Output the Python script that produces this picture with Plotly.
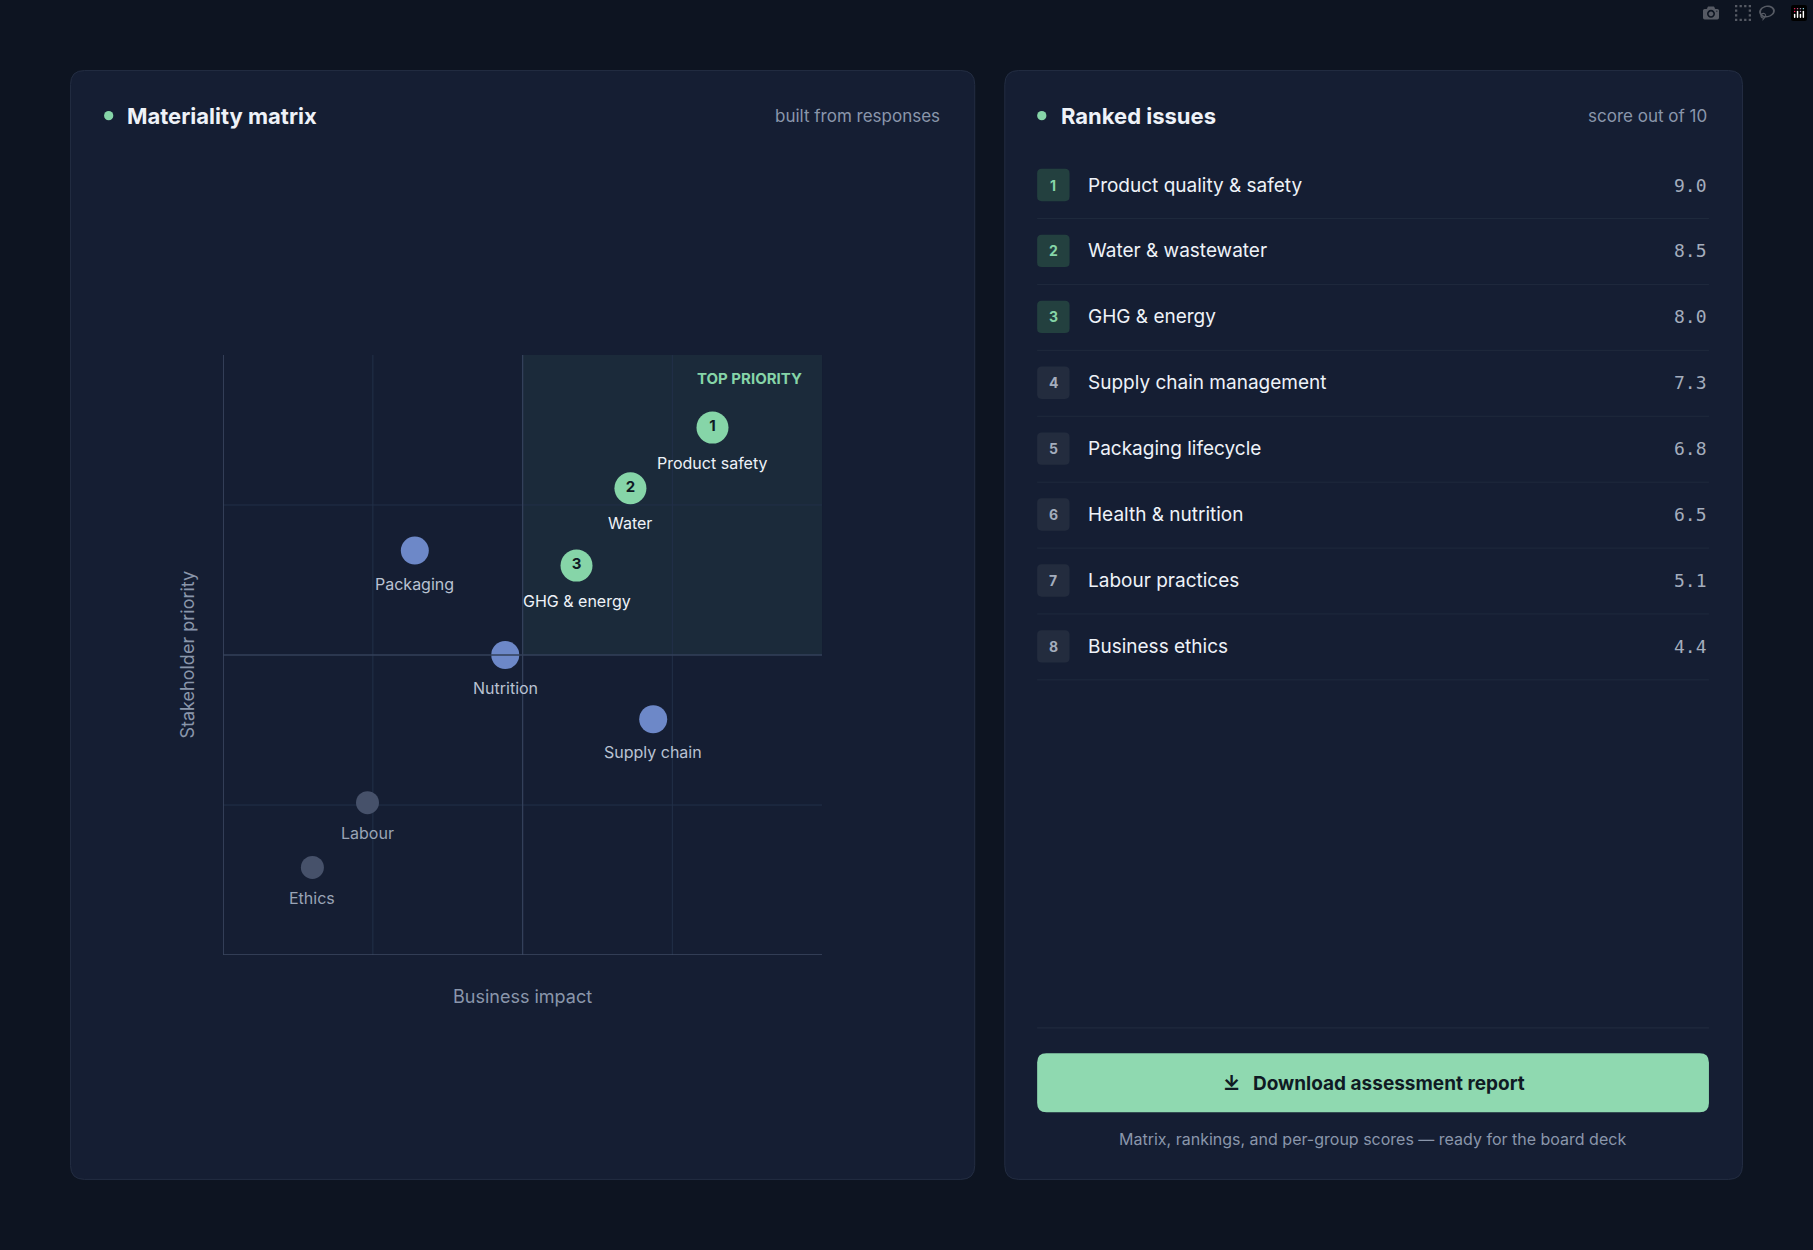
import plotly.graph_objects as go

W, H = 1813, 1250
S = W / 1568  # layout measured on a 1568-wide sketch

# ---- data ----
issues = ["Product safety", "Water", "GHG & energy", "Packaging", "Nutrition",
          "Supply chain", "Labour", "Ethics"]
impact = [8.17, 6.8, 5.9, 3.2, 4.71, 7.18, 2.41, 1.49]
stakeholder = [8.79, 7.78, 6.49, 6.74, 5.0, 3.93, 2.54, 1.46]
tier = ["top", "top", "top", "mid", "mid", "mid", "low", "low"]
badge = ["1", "2", "3", "", "", "", "", ""]

ranked = ["Product quality & safety", "Water & wastewater", "GHG & energy",
          "Supply chain management", "Packaging lifecycle", "Health & nutrition",
          "Labour practices", "Business ethics"]
scores = [9.0, 8.5, 8.0, 7.3, 6.8, 6.5, 5.1, 4.4]

BG = "#0d1421"
PANEL = "#151e33"
BORDER = "#232d42"
GREEN = "#86d5a8"
BLUE = "#6d88c8"
GRAY = "#46516a"
TXT = "#eef2f8"
MUTED = "#8a96ab"
FONT = "Inter"

def px(x):
    return x * S / W

def py(y):
    return 1 - y * S / H

def rrect(x0, y0, x1, y1, r):
    X0, X1 = px(x0), px(x1)
    Y0, Y1 = py(y0), py(y1)
    rx, ry = r * S / W, r * S / H
    return (f"M{X0+rx},{Y0} L{X1-rx},{Y0} Q{X1},{Y0} {X1},{Y0-ry} "
            f"L{X1},{Y1+ry} Q{X1},{Y1} {X1-rx},{Y1} L{X0+rx},{Y1} "
            f"Q{X0},{Y1} {X0},{Y1+ry} L{X0},{Y0-ry} Q{X0},{Y0} {X0+rx},{Y0} Z")

shapes, ann = [], []

def panel(x0, y0, x1, y1):
    shapes.append(dict(type="path", path=rrect(x0, y0, x1, y1, 12), xref="paper", yref="paper",
                       fillcolor=PANEL, line=dict(color=BORDER, width=1), layer="below"))

def text(x, y, s, size, color, anchor="left", weight=400, family=FONT):
    ann.append(dict(x=px(x), y=py(y), xref="paper", yref="paper", text=s, showarrow=False,
                    xanchor=anchor, yanchor="middle",
                    font=dict(size=size, color=color, family=family, weight=weight)))

def hline(x0, x1, y, color):
    shapes.append(dict(type="line", xref="paper", yref="paper", x0=px(x0), x1=px(x1),
                       y0=py(y), y1=py(y), line=dict(color=color, width=1)))

panel(61, 61, 843, 1020)
panel(869, 61, 1507, 1020)

# headers
for x in (94, 901):
    shapes.append(dict(type="circle", xref="paper", yref="paper", x0=px(x - 4), x1=px(x + 4),
                       y0=py(96), y1=py(104), fillcolor=GREEN, line=dict(width=0)))
text(108, 100, "Materiality matrix", 22, TXT, weight=700)
text(815, 100, "built from responses", 17, MUTED, "right")
text(916, 100, "Ranked issues", 22, TXT, weight=700)
text(1478, 100, "score out of 10", 17, MUTED, "right")

# ranked list
for i, (name, sc) in enumerate(zip(ranked, scores)):
    y = 160 + 57 * i
    top = i < 3
    shapes.append(dict(type="path", path=rrect(897, y - 14, 925, y + 14, 4), xref="paper", yref="paper",
                       fillcolor="#23403f" if top else "#232c3e", line=dict(width=0)))
    text(911, y, str(i + 1), 14, GREEN if top else "#a4adbd", "center", weight=700)
    text(939, y, name, 19, TXT)
    text(1478, y, f"{sc:.1f}", 18, "#a4adbd", "right", family="DejaVu Sans Mono")
    hline(897, 1478, y + 29, "#1f2a3d")

hline(897, 1478, 889, "#232d40")
shapes.append(dict(type="path", path=rrect(897, 911, 1478, 962, 8), xref="paper", yref="paper",
                   fillcolor="#8fd9b0", line=dict(width=0)))
text(1201, 937, "Download assessment report", 19, "#0f1a24", "center", weight=700)
text(1065, 937, "⤓", 20, "#0f1a24", "center", weight=700)
text(1187, 985, "Matrix, rankings, and per-group scores — ready for the board deck", 16, MUTED, "center")

# matrix
shapes.append(dict(type="rect", xref="x", yref="y", x0=5, x1=10, y0=5, y1=10,
                   fillcolor="#1b2a3a", line=dict(width=0), layer="below"))
for v in (2.5, 7.5):
    shapes.append(dict(type="line", xref="x", yref="y", x0=v, x1=v, y0=0, y1=10,
                       line=dict(color="#223049", width=1), layer="below"))
    shapes.append(dict(type="line", xref="x", yref="y", x0=0, x1=10, y0=v, y1=v,
                       line=dict(color="#223049", width=1), layer="below"))
shapes.append(dict(type="line", xref="x", yref="y", x0=5, x1=5, y0=0, y1=10,
                   line=dict(color="#33405a", width=1.3)))
shapes.append(dict(type="line", xref="x", yref="y", x0=0, x1=10, y0=5, y1=5,
                   line=dict(color="#33405a", width=1.3)))
shapes.append(dict(type="line", xref="x", yref="y", x0=0, x1=0, y0=0, y1=10,
                   line=dict(color="#3d4962", width=1.5)))
shapes.append(dict(type="line", xref="x", yref="y", x0=0, x1=10, y0=0, y1=0,
                   line=dict(color="#3d4962", width=1.5)))
ann.append(dict(x=9.7, y=9.6, xref="x", yref="y", text="TOP PRIORITY", showarrow=False,
                xanchor="right", font=dict(size=15, color=GREEN, family=FONT, weight=700)))

color_map = {"top": GREEN, "mid": BLUE, "low": GRAY}
size_map = {"top": 32, "mid": 28, "low": 23}
label_col = {"top": TXT, "mid": "#b9c2d2", "low": "#9aa4b6"}
fig = go.Figure()
for t in ("low", "mid", "top"):
    idx = [i for i in range(len(issues)) if tier[i] == t]
    fig.add_trace(go.Scatter(
        x=[impact[i] for i in idx], y=[stakeholder[i] for i in idx],
        mode="markers+text", text=[badge[i] for i in idx], textposition="middle center",
        textfont=dict(size=15, color="#0f1a24", family=FONT, weight=700),
        marker=dict(size=size_map[t], color=color_map[t], line=dict(width=0)),
        hoverinfo="skip", showlegend=False))
    for i in idx:
        ann.append(dict(x=impact[i], y=stakeholder[i], xref="x", yref="y", text=issues[i],
                        showarrow=False, yshift=-(size_map[t] / 2 + 19),
                        font=dict(size=16, color=label_col[t], family=FONT)))

text(452, 862, "Business impact", 18, MUTED, "center")
ann.append(dict(x=px(151), y=py(566), xref="paper", yref="paper", text="Stakeholder priority",
                showarrow=False, textangle=-90, font=dict(size=18, color=MUTED, family=FONT)))

fig.update_layout(
    width=W, height=H, margin=dict(l=0, r=0, t=0, b=0),
    paper_bgcolor=BG, plot_bgcolor="rgba(0,0,0,0)",
    xaxis=dict(range=[0, 10], domain=[px(193), px(711)], showgrid=False, zeroline=False,
               showticklabels=False, fixedrange=True),
    yaxis=dict(range=[0, 10], domain=[py(826), py(307)], showgrid=False, zeroline=False,
               showticklabels=False, fixedrange=True),
    shapes=shapes, annotations=ann, font=dict(family=FONT),
)
fig.write_html("out.html", post_script="document.body.style.margin='0';document.body.style.background='#0d1421';")
